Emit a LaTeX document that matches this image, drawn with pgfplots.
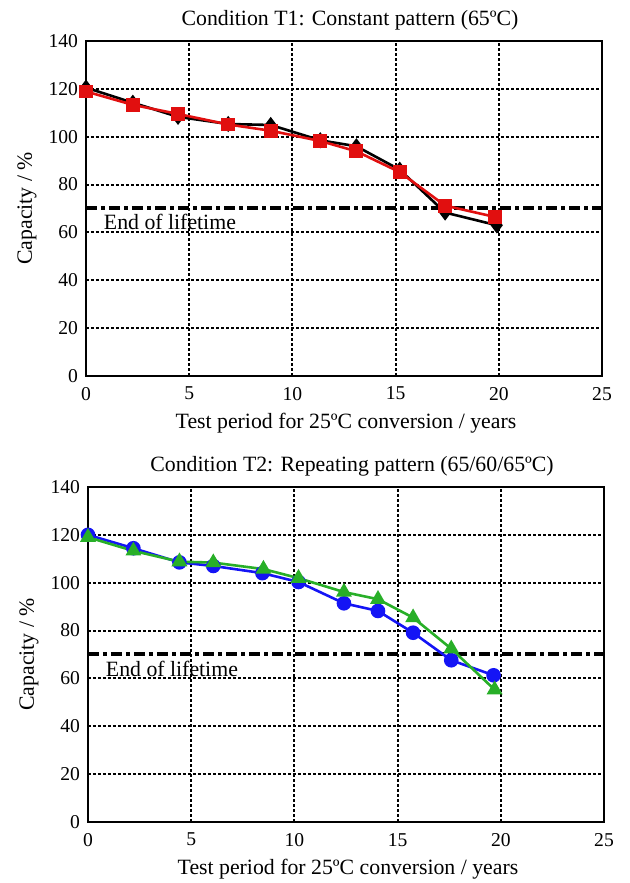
\documentclass[border=0pt]{standalone}
\usepackage{pgfplots}
\pgfplotsset{compat=1.18}
\usepackage{fontspec}
\setmainfont{Liberation Serif}
\definecolor{myred}{RGB}{225,15,15}
\definecolor{myblue}{RGB}{20,20,245}
\definecolor{mygreen}{RGB}{40,175,40}
\begin{document}
\begin{tikzpicture}
\useasboundingbox (0,0) rectangle (314.5pt,441.5pt);
\pgfplotsset{myax/.style={
  scale only axis, width=258pt, height=167.5pt,
  xmin=0, xmax=25, ymin=0, ymax=140,
  xtick={0,5,...,25}, ytick={0,20,...,140},
  grid=major, major grid style={black, line width=1pt, dash pattern=on 1.3pt off 1.2pt},
  axis line style={line width=1.4pt},
  major tick length=0pt,
  tick label style={font=\fontsize{9.8}{10}\selectfont},
  xticklabel style={yshift=-2pt},
  yticklabel style={xshift=-0.5pt},
  label style={font=\fontsize{10.9}{12}\selectfont},
  every axis title shift=0pt,
  title style={font=\fontsize{10.9}{12}\selectfont, at={(axis description cs:0.5,1)}, anchor=base, yshift=7.6pt, xshift=3pt},
  xlabel style={at={(axis description cs:0.5,0)}, anchor=base, yshift=-26.5pt, xshift=1pt},
  ylabel style={at={([xshift=-27pt]axis description cs:0,0.5)}, anchor=base},
  /pgf/number format/assume math mode=true,
  ylabel={Capacity / \%},
  xlabel={Test period for 25ºC conversion / years},
  anchor=south west,
  clip=false,
}}
\begin{axis}[myax, at={(43pt,253.5pt)}, title={Condition T1: Constant pattern (65ºC)}]
\addplot[black, line width=2pt, dash pattern=on 5.5pt off 2pt on 2pt off 2pt] coordinates {(0,70) (25,70)};
\addplot[black, line width=1.3pt, mark=diamond*, mark size=3pt] coordinates {
(0,120.5) (2.27,114.2) (4.46,108.3) (6.89,105.3) (8.95,104.9) (11.35,98.5) (13.1,96) (15.2,86.2) (17.4,68.3) (19.9,63)};
\addplot[myred, line width=1.3pt, mark=square*, mark size=2.8pt] coordinates {
(0,118.9) (2.27,113.3) (4.46,109.5) (6.89,105.1) (8.95,102.5) (11.35,98.2) (13.1,93.9) (15.2,85.2) (17.4,71.2) (19.8,66.5)};
\node[font=\fontsize{10.9}{12}\selectfont, anchor=west, inner sep=0pt] at (axis cs:0.85,64.5) {End of lifetime};
\end{axis}
\begin{axis}[myax, at={(44pt,30.5pt)}, title={Condition T2: Repeating pattern (65/60/65ºC)}]
\addplot[black, line width=2pt, dash pattern=on 5.5pt off 2pt on 2pt off 2pt] coordinates {(0,70) (25,70)};
\addplot[myblue, line width=1.3pt, mark=*, mark size=3pt] coordinates {
(0,120) (2.2,114.4) (4.43,108.5) (6.07,107) (8.45,104) (10.2,100.3) (12.4,91.4) (14.05,88.2) (15.75,79.1) (17.6,67.6) (19.65,61.3)};
\addplot[mygreen, line width=1.3pt, mark=triangle*, mark size=3.3pt] coordinates {
(0,119) (2.2,113.3) (4.43,108.8) (6.07,108.4) (8.5,105.7) (10.2,101.9) (12.4,96.1) (14.05,93.1) (15.75,85.4) (17.6,72.4) (19.7,55.3)};
\node[font=\fontsize{10.9}{12}\selectfont, anchor=west, inner sep=0pt] at (axis cs:0.85,64) {End of lifetime};
\end{axis}
\end{tikzpicture}
\end{document}
